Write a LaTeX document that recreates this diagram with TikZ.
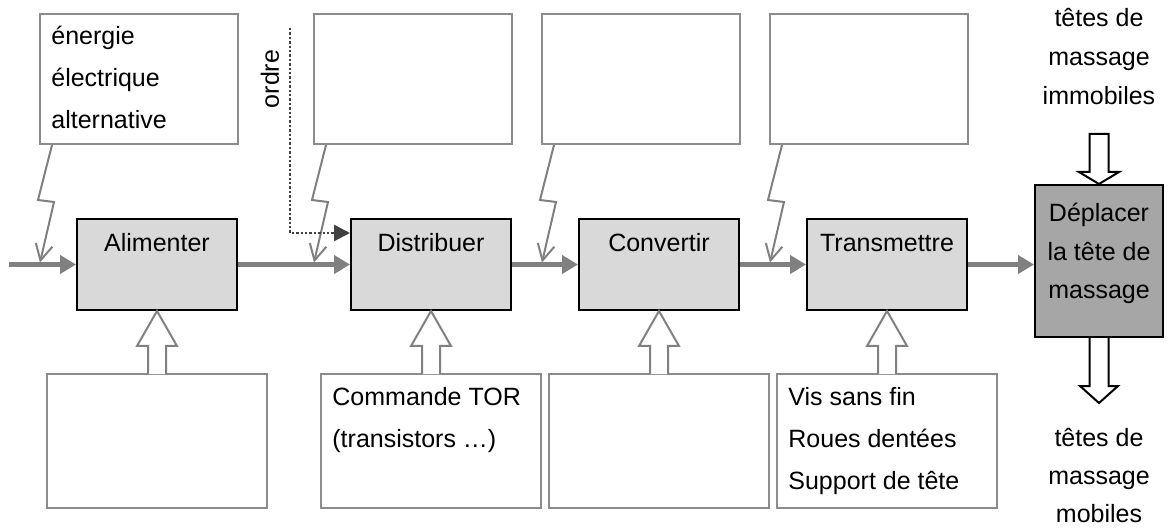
\documentclass[tikz,border=0pt]{standalone}
\usepackage{fontspec}
\setmainfont{Liberation Sans}
\usetikzlibrary{arrows.meta,calc}

\tikzset{
  boite/.style={draw, line width=1pt, inner sep=0pt},
  fonction/.style={boite, fill=black!15, minimum width=80pt, minimum height=45.5pt,
    text height=11pt, text depth=23.5pt},
  effet/.style={boite, fill=black!35, minimum width=64pt, minimum height=76pt,
    align=center, text depth=10pt, font=\fontsize{12.5pt}{19.25pt}\selectfont},
  info/.style={draw=black!45, line width=1pt, fill=white, inner sep=0pt},
  infotxt/.style={anchor=north west, align=left, inner sep=0pt},
  flux/.style={draw=black!50, line width=2.8pt, -{Triangle[length=8pt,width=9pt]}},
  eclair/.style={draw=black!50, line width=1pt, -{Straight Barb[length=8pt,width=8.5pt]}},
  creux/.style={draw=black!50, line width=1pt, fill=white},
  ordre/.style={draw=black!75, line width=1.2pt, dash pattern=on 1.2pt off 1pt,
    -{Triangle[length=8pt,width=8pt]}}
}

\begin{document}
\begin{tikzpicture}[x=0.5pt,y=-0.5pt,font=\fontsize{12.5pt}{21pt}\selectfont]

\useasboundingbox (0,0) rectangle (1173,529);

\foreach \nom/\txt/\x in {alim/Alimenter/157,distr/Distribuer/431,conv/Convertir/659,trans/Transmettre/887}{
\node[fonction] (\nom) at (\x,264.5) {\txt};
\node[info, anchor=north west, minimum width=99pt, minimum height=65pt] (in\nom) at (\x-118,13) {};
\node[info, minimum width=110pt, minimum height=67pt] (comp\nom) at (\x,441) {};

\draw[eclair] ($(in\nom.south west)+(13,0)$) -- ++(-14,55) -- ++(16,2)
  -- ($(in\nom.south west |- \nom.west)+(1,-2)$);

\draw[creux] ($(comp\nom.north)+(-9,1)$) |- ($(\nom.south)+(-20,35)$) -- (\nom.south)
  -- ++(20,35) -| ($(comp\nom.north)+(9,1)$);
}

\node[effet] (depl) at (1099,261) {Déplacer\\la tête de\\massage};

\node[infotxt] (inalimtxt) at ($(inalim.north west)+(12,13)$) {énergie\\électrique\\alternative};
\node[infotxt] (compdistrtxt) at ($(compdistr.north west)+(12,14)$) {Commande TOR\\(transistors …)};
\node[infotxt] (comptranstxt) at ($(comptrans.north west)+(12,14)$) {Vis sans fin\\Roues dentées\\Support de tête};

\coordinate (entree) at (9,264.5);
\draw[flux] (entree) -- (alim.west);
\draw[flux] (alim.east) -- (distr.west);
\draw[flux] (distr.east) -- (conv.west);
\draw[flux] (conv.east) -- (trans.west);
\draw[flux] (trans.east) -- (trans.east -| depl.west);

\coordinate (ordrehaut) at (290,28);
\draw[ordre] (ordrehaut) |- ($(distr.west)+(0,-31.5)$);
\node[rotate=90] (ordrelbl) at (270,79) {ordre};

\begin{scope}[creux, draw=black]
\draw (depl.north) -- ++(-20,-12) -- ++(10.5,0) -- ++(0,-38) -- ++(19,0) -- ++(0,38)
  -- ++(10.5,0) -- cycle;
\draw ($(depl.south)+(-9.5,-1)$) |- ($(depl.south)+(-19,48)$) -- ($(depl.south)+(0,65)$)
  -- ($(depl.south)+(19,48)$) -| ($(depl.south)+(9.5,-1)$);
\end{scope}

\node[align=center, font=\fontsize{12.5pt}{19.5pt}\selectfont] (immob) at ($(depl.north)+(0,-127)$) {têtes de\\massage\\immobiles};
\node[align=center, font=\fontsize{12.5pt}{19pt}\selectfont] (mob) at ($(depl.south)+(0,138)$) {têtes de\\massage\\mobiles};

\end{tikzpicture}
\end{document}
